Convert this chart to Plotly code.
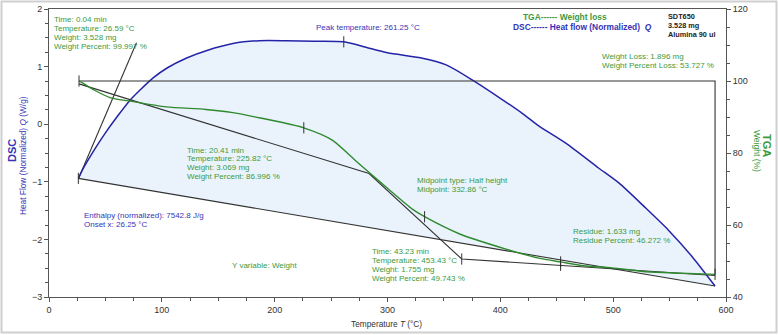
import plotly.graph_objects as go

# ---------------- data ----------------
# DSC heat flow (normalized) Q, W/g
dsc_temp = [26, 30, 40, 50, 60, 72, 80, 92, 105, 122, 140, 163, 186, 210, 235, 261.25,
            280, 300, 330, 352, 375, 400, 420, 434, 458, 487, 505, 528, 549, 570, 590.3]
dsc_flow = [-0.94, -0.78, -0.45, -0.15, 0.12, 0.42, 0.58, 0.80, 0.98, 1.15, 1.28, 1.40, 1.45, 1.45, 1.44, 1.43,
            1.34, 1.24, 1.15, 1.03, 0.77, 0.45, 0.18, -0.03, -0.33, -0.76, -1.02, -1.44, -1.84, -2.30, -2.81]

# DSC analysis lines
baseline_temp = [26, 590.3]
baseline_flow = [-0.94, -2.81]
onset_temp = [26.25, 77.5]
onset_flow = [-0.94, 1.415]

# TGA weight, %
tga_temp = [26.59, 30, 40, 54, 72, 104, 139, 163, 186, 205, 225.82, 251, 272, 284, 300, 322,
            332.86, 364, 405, 434, 453.43, 476, 499, 529, 560, 590.3]
tga_weight = [99.997, 99.4, 97.5, 95.4, 94.4, 92.8, 92.1, 91.2, 89.8, 88.6, 86.996, 83.6, 77.8, 74.5, 70.2, 64.4,
              62.3, 57.5, 53.3, 50.8, 49.743, 48.6, 48.1, 47.0, 46.6, 46.272]

# TGA analysis lines
tangent_temp = [26.59, 283.6, 365.8, 590.3]
tangent_weight = [99.2, 74.3, 50.55, 45.97]
loss_temp = [26.59, 590.3, 590.3]
loss_weight = [100.0, 100.0, 46.272]

# tick marks
tga_mark_temp = [26.59, 225.82, 332.86, 453.43, 453.43, 365.8, 590.3]
tga_mark_weight = [100.0, 86.996, 62.3, 49.743, 48.8, 50.55, 46.272]
dsc_mark_temp = [261.25, 26.0]
dsc_mark_flow = [1.43, -0.94]

x_ticks = [0, 100, 200, 300, 400, 500, 600]
y_ticks = [-3, -2, -1, 0, 1, 2]
y2_ticks = [40, 60, 80, 100, 120]

# ---------------- layout helpers ----------------
W, H = 778, 335
L, R, T, B = 49, 726, 9, 297


def px(x):
    return (x - L) / (R - L)


def py(y):
    return (B - y) / (B - T)


BLUE = "#2424a8"
BLUE_T = "#3535b5"
GREEN = "#2f8a2f"
GREEN_T = "#3d9a3d"
BLACK = "#333333"
FONT = "Liberation Sans, Arial, sans-serif"

fig = go.Figure()

# filled area between DSC curve and baseline
fig.add_trace(go.Scatter(x=dsc_temp, y=dsc_flow, mode="lines", fill="toself",
                         fillcolor="#eaf3fc", line=dict(width=0, shape="spline", smoothing=0.7),
                         hoverinfo="skip", showlegend=False))

fig.add_trace(go.Scatter(x=baseline_temp, y=baseline_flow, mode="lines",
                         line=dict(color=BLACK, width=1.1), showlegend=False))
fig.add_trace(go.Scatter(x=onset_temp, y=onset_flow, mode="lines",
                         line=dict(color=BLACK, width=1.1), showlegend=False))

# TGA analysis lines
fig.add_trace(go.Scatter(x=loss_temp, y=loss_weight, mode="lines", yaxis="y2",
                         line=dict(color=BLACK, width=1.1), showlegend=False))
fig.add_trace(go.Scatter(x=tangent_temp, y=tangent_weight, mode="lines", yaxis="y2",
                         line=dict(color=BLACK, width=1.1), showlegend=False))

# curves
fig.add_trace(go.Scatter(x=dsc_temp, y=dsc_flow, mode="lines",
                         line=dict(color=BLUE, width=1.5, shape="spline", smoothing=0.7),
                         showlegend=False))
fig.add_trace(go.Scatter(x=tga_temp, y=tga_weight, mode="lines", yaxis="y2",
                         line=dict(color=GREEN, width=1.4, shape="spline", smoothing=0.7),
                         showlegend=False))

# tick marks
fig.add_trace(go.Scatter(x=tga_mark_temp, y=tga_mark_weight, mode="markers", yaxis="y2",
                         marker=dict(symbol="line-ns-open", size=8, color=BLACK,
                                     line=dict(color=BLACK, width=1)), showlegend=False))
fig.add_trace(go.Scatter(x=dsc_mark_temp, y=dsc_mark_flow, mode="markers",
                         marker=dict(symbol="line-ns-open", size=8, color=BLACK,
                                     line=dict(color=BLACK, width=1)), showlegend=False))

annotations = []


def text(x, y, s, color, size=8, bold=False, anchor="left"):
    if bold:
        s = "<b>" + s + "</b>"
    annotations.append(dict(x=px(x), y=py(y), xref="paper", yref="paper", text=s,
                            showarrow=False, xanchor=anchor, yanchor="middle",
                            font=dict(family=FONT, size=size, color=color)))


for i, s in enumerate(["Time: 0.04 min", "Temperature: 26.59 °C", "Weight: 3.528 mg",
                       "Weight Percent: 99.997 %"]):
    text(52, 20 + 9 * i, s, GREEN_T)
for i, s in enumerate(["Time: 20.41 min", "Temperature: 225.82 °C", "Weight: 3.069 mg",
                       "Weight Percent: 86.996 %"]):
    text(185, 150 + 9 * i, s, GREEN_T)
for i, s in enumerate(["Time: 43.23 min", "Temperature: 453.43 °C", "Weight: 1.755 mg",
                       "Weight Percent: 49.743 %"]):
    text(370, 251 + 9.2 * i, s, GREEN_T)
text(82, 215, "Enthalpy (normalized): 7542.8 J/g", BLUE_T)
text(82, 224.5, "Onset x: 26.25 °C", BLUE_T)
text(230, 265, "Y variable: Weight", GREEN_T)
text(415, 180, "Midpoint type: Half height", GREEN_T)
text(415, 189.5, "Midpoint: 332.86 °C", GREEN_T)
text(571, 231, "Residue: 1.633 mg", GREEN_T)
text(571, 240, "Residue Percent: 46.272 %", GREEN_T)
text(600, 57, "Weight Loss: 1.896 mg", GREEN_T)
text(600, 66, "Weight Percent Loss: 53.727 %", GREEN_T)
text(314, 27, "Peak temperature: 261.25 °C", BLUE_T)
text(521, 17, "TGA------ Weight loss", GREEN_T, size=8.4, bold=True)
text(511, 27, "DSC------ Heat flow (Normalized)  <i>Q</i>", BLUE_T, size=8.4, bold=True)
text(666, 16, "SDT650", "#222222", size=7.3, bold=True)
text(666, 25, "3.528 mg", "#222222", size=7.3, bold=True)
text(666, 34, "Alumina 90 ul", "#222222", size=7.3, bold=True)

# axis titles
annotations.append(dict(x=px(12), y=py(151), xref="paper", yref="paper", text="<b>DSC</b>",
                        showarrow=False, textangle=-90, xanchor="center", yanchor="middle",
                        font=dict(family=FONT, size=11, color=BLUE_T)))
annotations.append(dict(x=px(23), y=py(156), xref="paper", yref="paper",
                        text="Heat Flow (Normalized) <i>Q</i> (W/g)",
                        showarrow=False, textangle=-90, xanchor="center", yanchor="middle",
                        font=dict(family=FONT, size=8.3, color=BLUE_T)))
annotations.append(dict(x=px(767), y=py(145), xref="paper", yref="paper", text="<b>TGA</b>",
                        showarrow=False, textangle=90, xanchor="center", yanchor="middle",
                        font=dict(family=FONT, size=11, color=GREEN_T)))
annotations.append(dict(x=px(757), y=py(151), xref="paper", yref="paper", text="Weight (%)",
                        showarrow=False, textangle=90, xanchor="center", yanchor="middle",
                        font=dict(family=FONT, size=8.5, color=GREEN_T)))
annotations.append(dict(x=px(386), y=py(324), xref="paper", yref="paper",
                        text="Temperature <i>T</i> (°C)",
                        showarrow=False, xanchor="center", yanchor="middle",
                        font=dict(family=FONT, size=8.3, color="#333333")))

tickfont = dict(family=FONT, size=9, color="#333333")

fig.update_layout(
    width=W, height=H,
    margin=dict(l=L, r=W - R, t=T, b=H - B, pad=0, autoexpand=False),
    paper_bgcolor="white", plot_bgcolor="white",
    showlegend=False,
    hovermode=False,
    annotations=annotations,
    shapes=[dict(type="rect", xref="paper", yref="paper",
                 x0=px(1.5), x1=px(776.5), y0=py(332.5), y1=py(1.5),
                 line=dict(color="#cfcfcf", width=2), layer="below")],
    xaxis=dict(range=[0, 600], tickvals=x_ticks, ticks="outside", ticklen=4, tickcolor="#555",
               showline=True, linecolor="#555", linewidth=1, mirror=True,
               showgrid=False, zeroline=False, tickfont=tickfont,
               minor=dict(dtick=25, ticks="outside", ticklen=3, tickcolor="#555")),
    yaxis=dict(range=[-3, 2], tickvals=y_ticks, ticks="outside", ticklen=4, tickcolor="#555",
               showline=True, linecolor="#555", linewidth=1,
               showgrid=False, zeroline=False, tickfont=tickfont,
               minor=dict(dtick=0.25, ticks="outside", ticklen=3, tickcolor="#555")),
    yaxis2=dict(range=[40, 120], tickvals=y2_ticks, ticks="outside", ticklen=4, tickcolor="#555",
                overlaying="y", side="right",
                showline=True, linecolor="#555", linewidth=1,
                showgrid=False, zeroline=False, tickfont=tickfont,
                minor=dict(dtick=5, ticks="outside", ticklen=3, tickcolor="#555")),
)

fig.write_html("out.html", config={"displayModeBar": False},
               post_script="document.body.style.margin='0';")
